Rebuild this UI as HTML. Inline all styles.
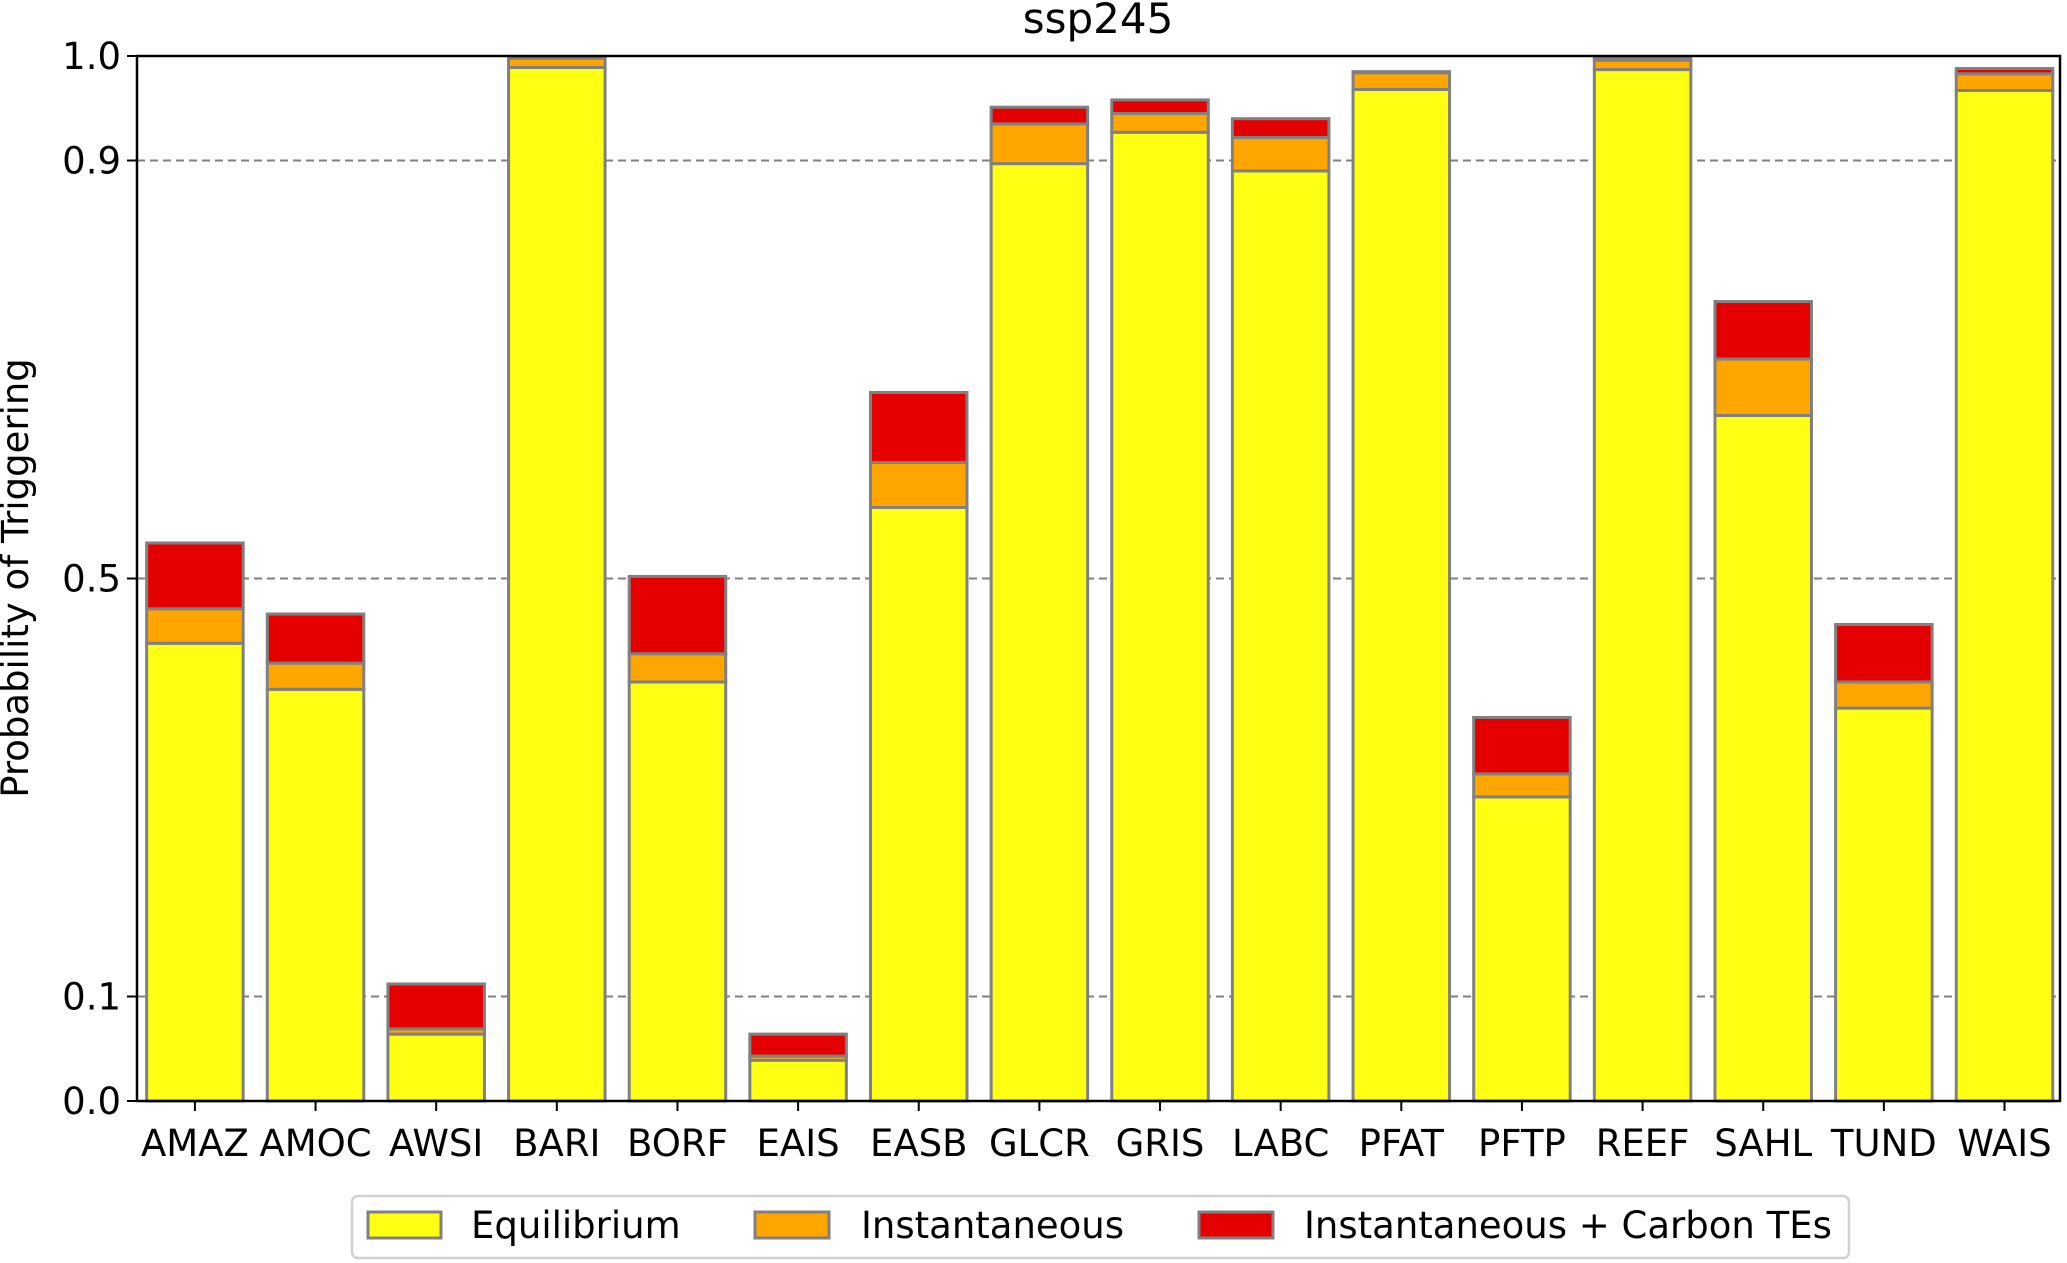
<!DOCTYPE html>
<html><head><meta charset="utf-8"><style>
html,body{margin:0;padding:0;background:#fff;}
svg{display:block;font-family:"DejaVu Sans","Liberation Sans",sans-serif;}
</style></head><body>
<svg id="chart" width="2067" height="1263" viewBox="0 0 2067 1263" xmlns="http://www.w3.org/2000/svg">
<text x="1098" y="33" font-size="42" text-anchor="middle">ssp245</text>
<text transform="translate(28,578) rotate(-90)" font-size="37" text-anchor="middle">Probability of Triggering</text>
<g id="grid"></g>
<g id="bars"></g>
<g id="axes"></g>
<g>
<rect x="352" y="1196" width="1497" height="62" rx="6" fill="#fff" stroke="#d0d0d0" stroke-width="2.5"/>
<g><rect x="368" y="1212" width="73" height="26" fill="#ffff14" stroke="#808080" stroke-width="3"/><text x="471" y="1238" font-size="37">Equilibrium</text></g>
<g><rect x="755" y="1212" width="74" height="26" fill="#ffa500" stroke="#808080" stroke-width="3"/><text x="861" y="1238" font-size="37">Instantaneous</text></g>
<g><rect x="1199" y="1212" width="74" height="26" fill="#e50000" stroke="#808080" stroke-width="3"/><text x="1304" y="1238" font-size="37">Instantaneous + Carbon TEs</text></g>
</g>
</svg>
<script>
const categories=["AMAZ","AMOC","AWSI","BARI","BORF","EAIS","EASB","GLCR","GRIS","LABC","PFAT","PFTP","REEF","SAHL","TUND","WAIS"];
const equilibrium=[0.438,0.394,0.064,0.989,0.401,0.039,0.568,0.897,0.927,0.890,0.968,0.291,0.987,0.656,0.376,0.967];
const instantaneous=[0.471,0.419,0.069,0.998,0.428,0.043,0.611,0.935,0.945,0.922,0.984,0.313,0.996,0.710,0.401,0.983];
const carbonTEs=[0.534,0.466,0.112,0.999,0.502,0.064,0.678,0.951,0.958,0.940,0.985,0.367,0.998,0.765,0.456,0.988];
const yTicks=[0,0.1,0.5,0.9,1.0];
const yTickLabels=["0.0","0.1","0.5","0.9","1.0"];
const gridVals=[0.1,0.5,0.9];

const NS="http://www.w3.org/2000/svg";
const L=137,R=2060,T=56,B=1101;
const xmin=-0.48,xmax=15.46;
function xs(i){return L+(i-xmin)/(xmax-xmin)*(R-L);}
function ys(v){return B-v*(B-T);}
const bw=0.8*(R-L)/(xmax-xmin);
function mk(tag,attrs,parent){const e=document.createElementNS(NS,tag);for(const k in attrs)e.setAttribute(k,attrs[k]);parent.appendChild(e);return e;}
const grid=document.getElementById('grid'),bars=document.getElementById('bars'),axes=document.getElementById('axes');
gridVals.forEach(v=>{
  const l=mk('line',{x1:L,x2:R,y1:ys(v),y2:ys(v),stroke:'#808080','stroke-width':2,'stroke-dasharray':'8,5'},grid);
  
  
});
categories.forEach((c,i)=>{
  const g=mk('g',{},bars);
  
  
  const x=xs(i)-bw/2;
  const segs=[[0,equilibrium[i],'#ffff14'],[equilibrium[i],instantaneous[i],'#ffa500'],[instantaneous[i],carbonTEs[i],'#e50000']];
  segs.forEach(s=>{
    const h=Math.max(0,ys(s[0])-ys(s[1]));
    const r=mk('rect',{x:x,y:ys(s[1]),width:bw,height:h,fill:s[2],stroke:'#808080','stroke-width':3},g);
    
    
  });
  const t=mk('line',{x1:xs(i),x2:xs(i),y1:B,y2:B+10,stroke:'#000','stroke-width':2},axes);
  
  
  const lb=mk('text',{x:xs(i),y:B+55,'font-size':37,'text-anchor':'middle'},axes);
  lb.textContent=c;
  
  
});
yTicks.forEach((v,k)=>{
  const t=mk('line',{x1:L-10,x2:L,y1:ys(v),y2:ys(v),stroke:'#000','stroke-width':2},axes);
  
  
  const lb=mk('text',{x:L-16,y:ys(v)+13,'font-size':37,'text-anchor':'end'},axes);
  lb.textContent=yTickLabels[k];
  
  
});
const frame=mk('rect',{x:L,y:T,width:R-L,height:B-T,fill:'none',stroke:'#000','stroke-width':2.5},axes);


</script>
</body></html>
